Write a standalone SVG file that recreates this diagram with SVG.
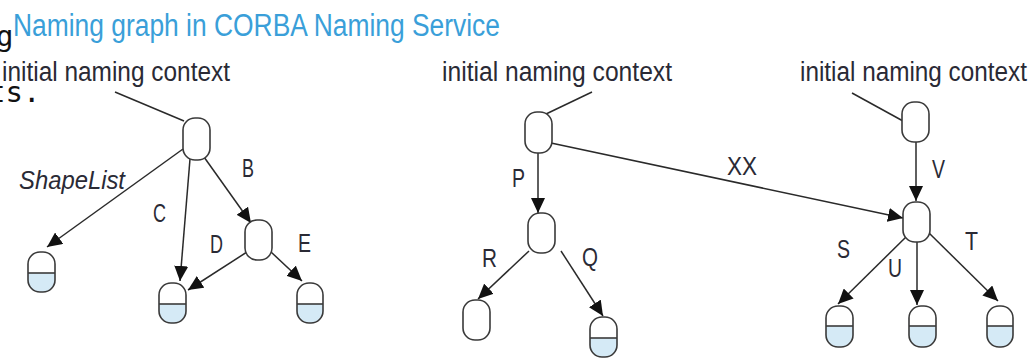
<svg xmlns="http://www.w3.org/2000/svg" width="1036" height="359" viewBox="0 0 1036 359">
<defs>
<style>
.bg{fill:#ffffff}
.mono{font-family:"DejaVu Sans Mono","Liberation Mono",monospace;font-size:29px;fill:#111}
.title{font-family:"Liberation Sans Narrow","Liberation Sans",Arial,sans-serif;font-size:31px;fill:#3a9fd9}
.lbl{font-family:"Liberation Sans Narrow","Liberation Sans",Arial,sans-serif;font-size:25px;fill:#2a2a35}
.ctxl{font-size:27px}
.it{font-style:italic}
.ctx{fill:#ffffff;stroke:#3a3a3a;stroke-width:1.6}
.obj{fill:none;stroke:#3a3a3a;stroke-width:1.6}
.objfill{fill:#d5eaf6;stroke:none}
.sep{stroke:#3a3a3a;stroke-width:1.6}
.edge{stroke:#2a2a2a;stroke-width:1.5;fill:none}
.arrow{marker-end:url(#ah)}
</style>
<marker id="ah" markerUnits="userSpaceOnUse" markerWidth="16" markerHeight="14" refX="15" refY="7" orient="auto">
<path d="M0,0 L15,7 L0,14 Z" fill="#111"/>
</marker>
</defs>
<rect class="bg" x="0" y="0" width="1036" height="359"/>
<text class="mono" x="-4" y="46">g</text>
<text class="mono" x="-12" y="102">ts.</text>
<text class="title" x="13" y="36" textLength="487" lengthAdjust="spacingAndGlyphs">Naming graph in CORBA Naming Service</text>

<g id="connectors">
<line class="edge" x1="115" y1="92" x2="184" y2="121"/>
<line class="edge" x1="592" y1="92" x2="546" y2="114"/>
<line class="edge" x1="852" y1="93" x2="903" y2="121"/>
<line class="edge arrow" x1="183" y1="149" x2="47" y2="247"/>
<line class="edge arrow" x1="190" y1="159" x2="180" y2="281"/>
<line class="edge arrow" x1="204" y1="157" x2="251" y2="223"/>
<line class="edge arrow" x1="247" y1="252" x2="188" y2="290"/>
<line class="edge arrow" x1="271" y1="252" x2="302" y2="281"/>
<line class="edge arrow" x1="538" y1="153" x2="538" y2="213"/>
<line class="edge arrow" x1="529" y1="251" x2="478" y2="299"/>
<line class="edge arrow" x1="561" y1="251" x2="603" y2="316"/>
<line class="edge arrow" x1="551" y1="143" x2="903" y2="218"/>
<line class="edge arrow" x1="916" y1="142" x2="916" y2="201"/>
<line class="edge arrow" x1="907" y1="236" x2="838" y2="304"/>
<line class="edge arrow" x1="917" y1="240" x2="917" y2="305"/>
<line class="edge arrow" x1="929" y1="233" x2="998" y2="301"/>
</g>

<g id="labels">
<text class="lbl ctxl" x="2" y="81" textLength="228" lengthAdjust="spacingAndGlyphs">initial naming context</text>
<text class="lbl ctxl" x="442" y="81" textLength="230" lengthAdjust="spacingAndGlyphs">initial naming context</text>
<text class="lbl ctxl" x="800" y="81" textLength="227" lengthAdjust="spacingAndGlyphs">initial naming context</text>
<text class="lbl it" x="19" y="189" textLength="106" lengthAdjust="spacingAndGlyphs">ShapeList</text>
<text class="lbl" x="242" y="177" textLength="12" lengthAdjust="spacingAndGlyphs">B</text>
<text class="lbl" x="153" y="222" textLength="13" lengthAdjust="spacingAndGlyphs">C</text>
<text class="lbl" x="210" y="253" textLength="13" lengthAdjust="spacingAndGlyphs">D</text>
<text class="lbl" x="298" y="252" textLength="13" lengthAdjust="spacingAndGlyphs">E</text>
<text class="lbl" x="512" y="187" textLength="13" lengthAdjust="spacingAndGlyphs">P</text>
<text class="lbl" x="482" y="267" textLength="15" lengthAdjust="spacingAndGlyphs">R</text>
<text class="lbl" x="582" y="266" textLength="16" lengthAdjust="spacingAndGlyphs">Q</text>
<text class="lbl" x="727" y="175" textLength="30" lengthAdjust="spacingAndGlyphs">XX</text>
<text class="lbl" x="932" y="178" textLength="13" lengthAdjust="spacingAndGlyphs">V</text>
<text class="lbl" x="837" y="258" textLength="13" lengthAdjust="spacingAndGlyphs">S</text>
<text class="lbl" x="888" y="277" textLength="14" lengthAdjust="spacingAndGlyphs">U</text>
<text class="lbl" x="965" y="250" textLength="13" lengthAdjust="spacingAndGlyphs">T</text>
</g>

<g id="ctx-left-root"><rect class="ctx" x="183" y="118" width="27" height="42" rx="12"/></g>
<g id="ctx-left-B"><rect class="ctx" x="245" y="220" width="27" height="40" rx="12"/></g>
<g id="obj-shapelist"><path class="objfill" d="M28,273 H55 V279 A13,13 0 0 1 42,292 A13,13 0 0 1 28,279 Z"/><rect class="obj" x="28" y="252" width="27" height="40" rx="12"/><line class="sep" x1="28" y1="273" x2="55" y2="273"/></g>
<g id="obj-C"><path class="objfill" d="M159,304 H186 V310 A13,13 0 0 1 173,323 A13,13 0 0 1 159,310 Z"/><rect class="obj" x="159" y="283" width="27" height="40" rx="12"/><line class="sep" x1="159" y1="304" x2="186" y2="304"/></g>
<g id="obj-E"><path class="objfill" d="M297,304 H323 V310 A13,13 0 0 1 310,323 A13,13 0 0 1 297,310 Z"/><rect class="obj" x="297" y="283" width="26" height="40" rx="12"/><line class="sep" x1="297" y1="304" x2="323" y2="304"/></g>

<g id="ctx-mid-root"><rect class="ctx" x="525" y="112" width="27" height="41" rx="12"/></g>
<g id="ctx-mid-P"><rect class="ctx" x="528" y="213" width="27" height="40" rx="12"/></g>
<g id="ctx-mid-R"><rect class="ctx" x="463" y="300" width="27" height="40" rx="12"/></g>
<g id="obj-Q"><path class="objfill" d="M590,338 H617 V344 A13,13 0 0 1 604,357 A13,13 0 0 1 590,344 Z"/><rect class="obj" x="590" y="317" width="27" height="40" rx="12"/><line class="sep" x1="590" y1="338" x2="617" y2="338"/></g>

<g id="ctx-right-root"><rect class="ctx" x="902" y="102" width="27" height="40" rx="12"/></g>
<g id="ctx-right-V"><rect class="ctx" x="903" y="202" width="27" height="40" rx="12"/></g>
<g id="obj-S"><path class="objfill" d="M826,326 H853 V334 A13,13 0 0 1 840,347 A13,13 0 0 1 826,334 Z"/><rect class="obj" x="826" y="306" width="27" height="41" rx="12"/><line class="sep" x1="826" y1="326" x2="853" y2="326"/></g>
<g id="obj-U"><path class="objfill" d="M909,326 H936 V334 A13,13 0 0 1 923,347 A13,13 0 0 1 909,334 Z"/><rect class="obj" x="909" y="306" width="27" height="41" rx="12"/><line class="sep" x1="909" y1="326" x2="936" y2="326"/></g>
<g id="obj-T"><path class="objfill" d="M987,326 H1013 V334 A13,13 0 0 1 1000,347 A13,13 0 0 1 987,334 Z"/><rect class="obj" x="987" y="306" width="26" height="41" rx="12"/><line class="sep" x1="987" y1="326" x2="1013" y2="326"/></g>
</svg>
